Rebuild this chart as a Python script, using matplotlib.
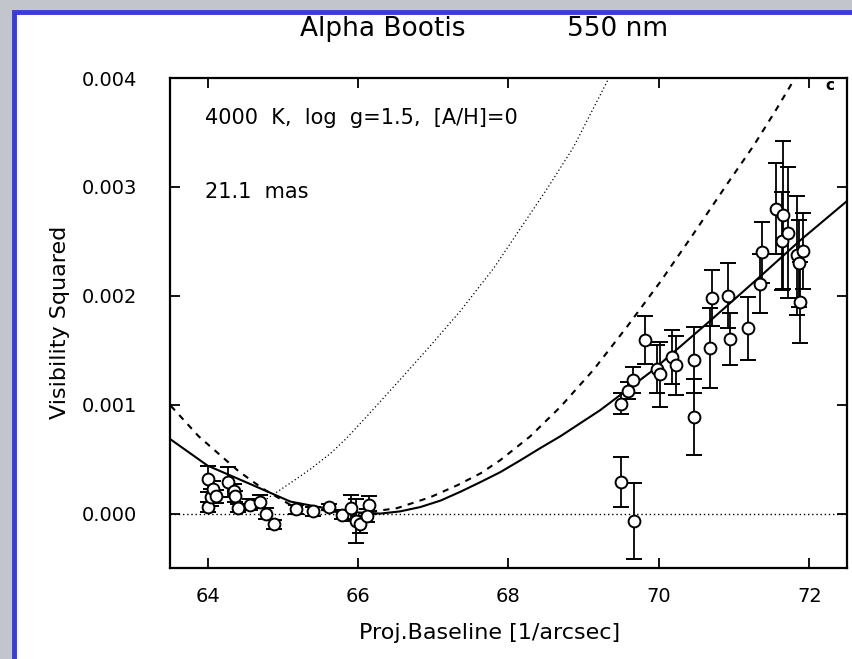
import matplotlib
matplotlib.use("Agg")
import matplotlib.pyplot as plt
from matplotlib.patches import Rectangle

# --- measured squared visibilities: baseline, V^2, error ---
base_x = [64.00, 64.01, 64.05, 64.07, 64.11, 64.27, 64.35, 64.37, 64.40, 64.57,
          64.70, 64.77, 64.88, 65.17, 65.40, 65.61, 65.79, 65.90, 65.97, 66.03,
          66.14, 66.12,
          69.50, 69.59, 69.66, 69.81, 69.98, 70.02, 70.18, 70.23, 70.46, 70.46,
          70.68, 70.71, 70.92, 70.95, 71.19, 71.35, 71.37, 71.55, 71.63, 71.65,
          71.71, 71.84, 71.86, 71.88, 71.92, 69.50, 69.67]
vis2 = [0.00032, 0.00006, 0.00015, 0.00023, 0.00016, 0.00029, 0.00021, 0.00016, 0.00005, 0.00008,
        0.00011, 0.00000, -0.00010, 0.00004, 0.00002, 0.00006, -0.00001, 0.00005, -0.00007, -0.00010,
        0.00008, -0.00002,
        0.00101, 0.00113, 0.00123, 0.00159, 0.00133, 0.00128, 0.00144, 0.00136, 0.00141, 0.00089,
        0.00152, 0.00198, 0.00200, 0.00160, 0.00170, 0.00211, 0.00240, 0.00280, 0.00250, 0.00274,
        0.00258, 0.00237, 0.00230, 0.00194, 0.00241, 0.00029, -0.00007]
vis2_err = [0.00012, 0.00005, 0.00008, 0.00007, 0.00006, 0.00014, 0.00006, 0.00005, 0.00004, 0.00005,
            0.00006, 0.00005, 0.00004, 0.00004, 0.00004, 0.00003, 0.00004, 0.00012, 0.00020, 0.00008,
            0.00008, 0.00006,
            0.00010, 0.00008, 0.00012, 0.00022, 0.00022, 0.00030, 0.00025, 0.00027, 0.00030, 0.00035,
            0.00037, 0.00026, 0.00030, 0.00024, 0.00029, 0.00027, 0.00028, 0.00042, 0.00045, 0.00068,
            0.00060, 0.00055, 0.00040, 0.00037, 0.00035, 0.00023, 0.00035]

# --- model curves (solid = best fit 21.1 mas, dashed, dotted) ---
solid_x = [63.51, 64.00, 64.57, 65.10, 65.63, 66.00, 66.30, 66.56, 66.83, 67.10, 67.36,
           67.63, 67.89, 68.16, 68.42, 68.69, 69.22, 69.89, 70.68, 71.35, 71.88, 72.50]
solid_y = [0.00068, 0.00044, 0.00027, 0.00011, 0.00004, 0.00001, 0.00000, 0.00002, 0.00006, 0.00012, 0.00020,
           0.00029, 0.00038, 0.00049, 0.00060, 0.00071, 0.00095, 0.00130, 0.00177, 0.00218, 0.00251, 0.00287]

dash_x = [63.51, 63.88, 64.41, 64.73, 65.10, 65.63, 66.00, 66.52, 66.96, 67.32,
          67.63, 67.89, 68.29, 68.69, 69.13, 69.58, 70.02, 70.46, 70.91, 71.26, 71.55, 71.81]
dash_y = [0.00099, 0.00071, 0.00039, 0.00023, 0.00008, 0.00002, 0.00000, 0.00005, 0.00015, 0.00026,
          0.00037, 0.00049, 0.00071, 0.00098, 0.00132, 0.00172, 0.00213, 0.00257, 0.00303, 0.00338, 0.00370, 0.00400]

dot_x = [64.44, 64.64, 64.84, 65.10, 65.37, 65.63, 65.83, 66.10, 66.52, 66.96,
         67.36, 67.80, 68.16, 68.52, 68.86, 69.32]
dot_y = [0.00000, 0.000065, 0.00016, 0.00028, 0.00041, 0.00055, 0.00068, 0.00088, 0.00120, 0.00154,
         0.00186, 0.00225, 0.00262, 0.00299, 0.00336, 0.00398]

x_ticks = [64, 66, 68, 70, 72]
y_ticks = [0.000, 0.001, 0.002, 0.003, 0.004]

W, H = 853, 659
fig = plt.figure(figsize=(W / 100, H / 100), dpi=100)
fig.patch.set_facecolor("#c3c5cd")
# white slide panel with blue rule on the left and top
fig.patches.append(Rectangle((14 / W, -0.05), 1.2, 1 - 12 / H + 0.05, transform=fig.transFigure,
                             facecolor="white", edgecolor="#3b3bd6", linewidth=3.5, zorder=-10))

ax = fig.add_axes([170 / W, 91 / H, 677 / W, 490 / H])
ax.set_zorder(5)
ax.set_xlim(63.5, 72.5)
ax.set_ylim(-0.0005, 0.004)

ax.axhline(0, color="black", linestyle=(0, (1, 2)), linewidth=1.0)
ax.plot(solid_x, solid_y, color="black", linewidth=1.5)
ax.plot(dash_x, dash_y, color="black", linewidth=1.5, linestyle=(0, (3, 3)))
ax.plot(dot_x, dot_y, color="black", linewidth=0.9, linestyle=(0, (1, 2)))

ax.errorbar(base_x, vis2, yerr=vis2_err, fmt="o", color="black", ecolor="black",
             elinewidth=1.3, capsize=5.5, capthick=1.3, markersize=8.5,
             markerfacecolor="white", markeredgecolor="black", markeredgewidth=1.4)

ax.set_xticks(x_ticks)
ax.set_yticks(y_ticks)
ax.set_xticklabels([str(t) for t in x_ticks])
ax.set_yticklabels([f"{t:.3f}" for t in y_ticks])
ax.tick_params(direction="in", top=True, right=True, length=7, width=1.3,
               labelsize=14)
ax.tick_params(axis="y", pad=24)
ax.tick_params(axis="x", pad=14)
for s in ax.spines.values():
    s.set_linewidth(1.6)

ax.text(0.052, 0.918, "4000  K,  log  g=1.5,  [A/H]=0", transform=ax.transAxes,
        fontsize=15, va="center", ha="left")
ax.text(0.052, 0.767, "21.1  mas", transform=ax.transAxes,
        fontsize=15, va="center", ha="left")
ax.text(0.975, 0.984, "c", transform=ax.transAxes, fontsize=11,
        fontweight="bold", va="center", ha="center")

fig.text(383 / W, 1 - 29 / H, "Alpha Bootis", fontsize=19,
         ha="center", va="center")
fig.text(618 / W, 1 - 29 / H, "550 nm", fontsize=19,
         ha="center", va="center")
fig.text(490 / W, 1 - 633 / H, "Proj.Baseline [1/arcsec]", fontsize=16,
         ha="center", va="center")
fig.text(60 / W, 1 - 322 / H, "Visibility Squared", fontsize=16,
         ha="center", va="center", rotation=90)

fig.savefig("out.png", dpi=100, facecolor=fig.get_facecolor())
